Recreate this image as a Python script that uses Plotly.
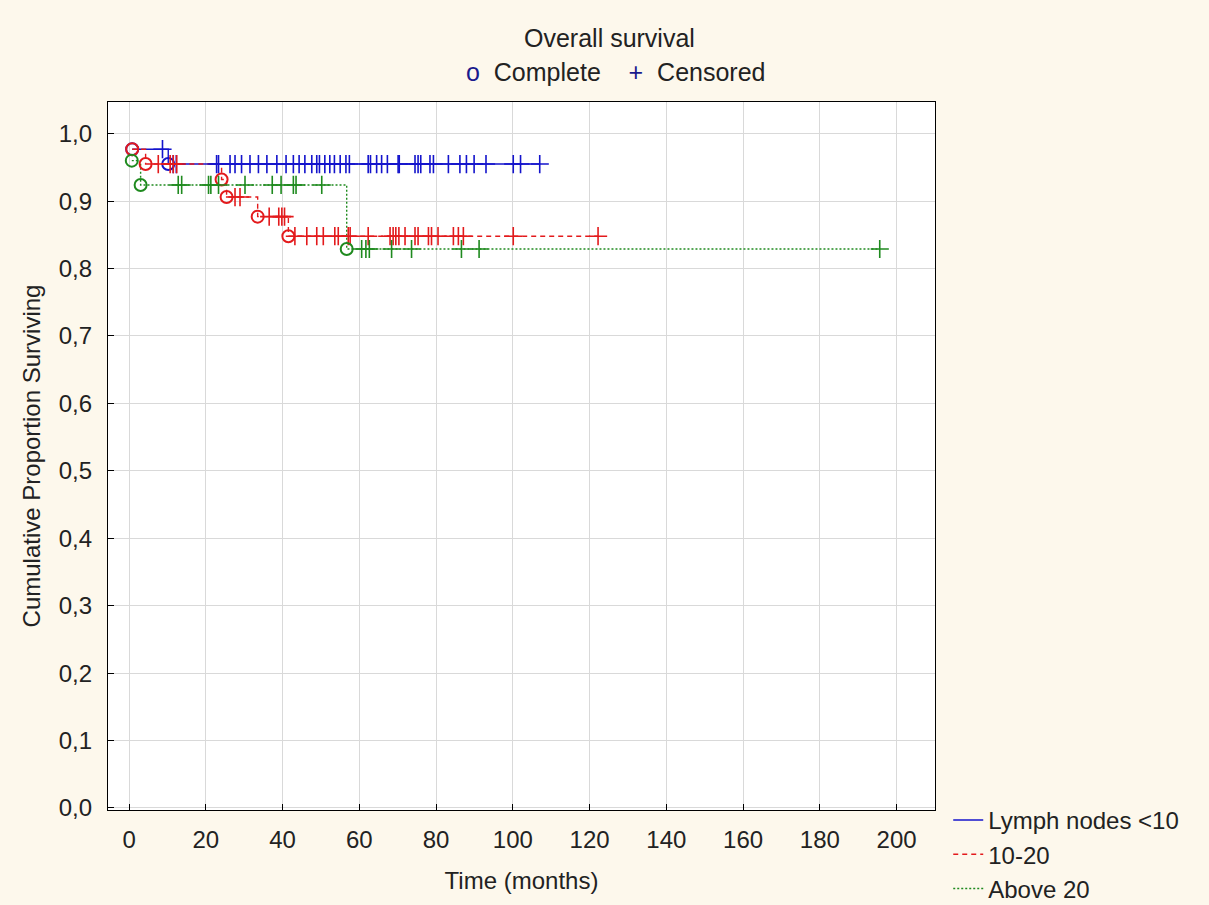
import plotly.graph_objects as go

# ---------------- data ----------------
groups = ["Lymph nodes <10", "10-20", "Above 20"]

# event (complete) times and survival level after each event
blue_event_t = [0.8, 10.2]
blue_event_s = [0.977, 0.955]
blue_cens_t = [8.7, 11.5, 12.3, 22.8, 23.3, 26.3, 27.6, 29.3, 31.5, 33.7, 35.9, 38.5,
               40.9, 42.8, 44.3, 45.8, 47.6, 48.9, 49.6, 51, 52.3, 53.5, 55, 56.5, 57.4,
               62.3, 62.9, 64.5, 65.8, 67.3, 70.1, 70.4, 74.5, 75.3, 76, 78.4, 79.3,
               83.2, 86.2, 87.9, 89.9, 93, 100.1, 102, 107]

red_event_t = [0.8, 4.3, 24.1, 25.4, 33.5, 41.5]
red_event_s = [0.977, 0.955, 0.932, 0.906, 0.877, 0.848]
red_cens_t = [7.6, 10.7, 11.5, 12.4, 27.6, 28.9, 36.5, 39, 39.8, 40.5,
              43.2, 46.3, 48.9, 50.6, 53.6, 54.5, 57.1, 57.6, 62.3, 68, 68.8, 69.5,
              70.3, 71.9, 74.5, 75.3, 78, 78.8, 80.5, 84.5, 85.8, 87.1, 100.1, 122.2]

green_event_t = [0.7, 3.0, 56.7]
green_event_s = [0.960, 0.924, 0.829]
green_cens_t = [12.8, 13.7, 20.7, 21.3, 23.3, 30.2, 37.3, 39.6, 42.8, 43.5, 50.2,
                60.6, 61.7, 62.6, 68.4, 73.6, 86.6, 91.2, 195.6]

y_ticks = [0.0, 0.1, 0.2, 0.3, 0.4, 0.5, 0.6, 0.7, 0.8, 0.9, 1.0]
x_ticks = [0, 20, 40, 60, 80, 100, 120, 140, 160, 180, 200]

colors = ["#1414CC", "#E31A1C", "#1F8A1F"]
dashes = ["solid", "5px,4px", "2px,2px"]

series = [
    (blue_event_t, blue_event_s, blue_cens_t),
    (red_event_t, red_event_s, red_cens_t),
    (green_event_t, green_event_s, green_cens_t),
]


def level_at(t, ev_t, ev_s):
    lvl = ev_s[0]
    for et, es in zip(ev_t, ev_s):
        if et <= t:
            lvl = es
    return lvl


fig = go.Figure()

for name, col, dash, (et, es, ct) in zip(groups, colors, dashes, series):
    end_t = max(ct)
    fig.add_trace(go.Scatter(
        x=list(et) + [end_t], y=list(es) + [es[-1]],
        mode="lines", line=dict(color=col, width=1.4, dash=dash, shape="hv"),
        name=name, showlegend=True,
    ))
for name, col, dash, (et, es, ct) in zip(groups, colors, dashes, series):
    fig.add_trace(go.Scatter(
        x=ct, y=[level_at(t, et, es) for t in ct], mode="markers",
        marker=dict(symbol="cross-thin-open", size=13, color=col,
                    line=dict(color=col, width=1.6)),
        showlegend=False, hoverinfo="x+y",
    ))
    fig.add_trace(go.Scatter(
        x=et, y=es, mode="markers",
        marker=dict(symbol="circle-open", size=12, color=col, line=dict(color=col, width=2)),
        showlegend=False, hoverinfo="x+y",
    ))

font_family = "Liberation Sans, Arial, sans-serif"
txt = "#222222"
axis_common = dict(
    showgrid=True, gridcolor="#D9D9D9", gridwidth=1,
    showline=True, linecolor="#000000", linewidth=1.2, mirror=True,
    ticks="inside", ticklen=6, tickcolor="#000000", tickwidth=1,
    zeroline=False, tickfont=dict(family=font_family, size=24, color=txt),
)

fig.update_xaxes(range=[-5.5, 210], tickvals=x_ticks, ticklabelstandoff=8,
                 title=dict(text="Time (months)", font=dict(family=font_family, size=24, color=txt),
                            standoff=20),
                 **axis_common)
fig.update_yaxes(range=[-0.003, 1.047], tickvals=y_ticks, tickformat=".1f", ticklabelstandoff=10,
                 title=dict(text="Cumulative Proportion Surviving",
                            font=dict(family=font_family, size=24, color=txt), standoff=11),
                 **axis_common)

fig.update_layout(
    width=1209, height=905,
    margin=dict(l=108, r=274, t=102, b=95, autoexpand=False),
    paper_bgcolor="#FDF8EC", plot_bgcolor="#FFFFFF",
    separators=",.",
    font=dict(family=font_family, size=24, color=txt),
    showlegend=True,
    legend=dict(x=1.016, y=0.017, xanchor="left", yanchor="top",
                bgcolor="rgba(0,0,0,0)", font=dict(size=24, family=font_family, color=txt),
                tracegroupgap=0, itemwidth=30),
    annotations=[
        dict(text="Overall survival", xref="paper", yref="paper", x=0.606, y=1.0904,
             showarrow=False, xanchor="center", yanchor="middle",
             font=dict(family=font_family, size=25, color=txt)),
        dict(text='<span style="color:#1a1a8c">o</span>  Complete    '
                  '<span style="color:#1a1a8c">+</span>  Censored',
             xref="paper", yref="paper", x=0.614, y=1.0424,
             showarrow=False, xanchor="center", yanchor="middle",
             font=dict(family=font_family, size=25, color=txt)),
    ],
)

fig.write_html("out.html", config={"displayModeBar": False},
               post_script="document.body.style.margin='0';"
                           "document.body.style.background='#FDF8EC';")
